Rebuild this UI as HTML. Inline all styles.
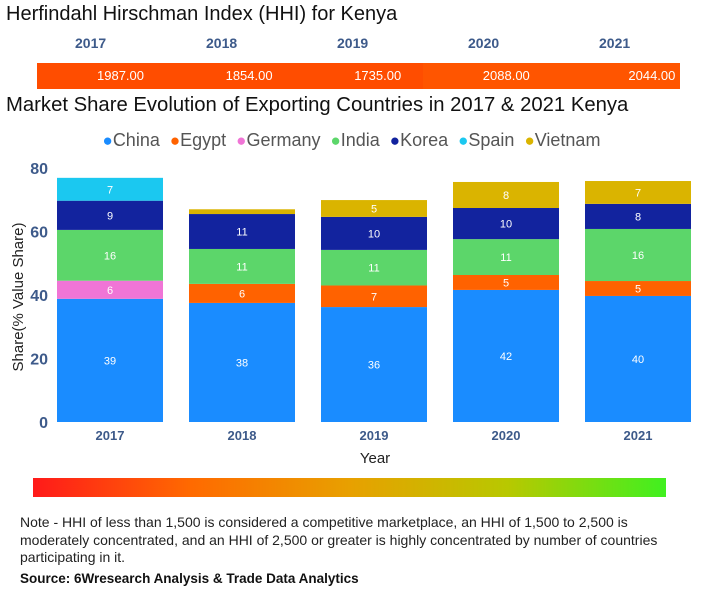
<!DOCTYPE html>
<html><head><meta charset="utf-8"><style>
body{margin:0;width:703px;height:600px;background:#fff;font-family:"Liberation Sans",sans-serif;overflow:hidden;position:relative}
.t{position:absolute;white-space:nowrap}
</style></head><body>
<div class="t" style="left:6px;top:3px;font-size:20px;color:#111">Herfindahl Hirschman Index (HHI) for Kenya</div>
<div id="hhi"></div>
<div class="t" style="left:6px;top:94px;font-size:20.3px;color:#111">Market Share Evolution of Exporting Countries in 2017 &amp; 2021 Kenya</div>
<div id="legend" style="position:absolute;left:0;top:130px;width:703px;text-align:center;font-size:18px;color:#555;white-space:nowrap"></div>
<svg id="chart" width="703" height="480" style="position:absolute;left:0;top:0"></svg>
<div style="position:absolute;left:33px;top:478px;width:633px;height:19px;background:linear-gradient(to right,#ff1a1a,#ff6a00 25%,#e8a000 50%,#b8c800 75%,#40f020)"></div>
<div class="t" style="left:20px;top:514px;font-size:14px;line-height:17.5px;color:#222;white-space:normal;width:660px">Note - HHI of less than 1,500 is considered a competitive marketplace, an HHI of 1,500 to 2,500 is moderately concentrated, and an HHI of 2,500 or greater is highly concentrated by number of countries participating in it.</div>
<div class="t" style="left:20px;top:571px;font-size:13.5px;font-weight:bold;color:#111">Source: 6Wresearch Analysis &amp; Trade Data Analytics</div>
<script>
const years=["2017","2018","2019","2020","2021"];
const hhiValues=[1987.00,1854.00,1735.00,2088.00,2044.00];
const seriesNames=["China","Egypt","Germany","India","Korea","Spain","Vietnam"];
const seriesColors=["#1a8cff","#ff6200","#f075d6","#5cd66a","#12239e","#1bc8f0","#dab400"];
const china=[38.8,37.5,36.2,41.6,39.7];
const egypt=[0,6,6.8,4.7,4.7];
const germany=[5.7,0,0,0,0];
const india=[16,11,11.2,11.3,16.4];
const korea=[9.2,11,10.4,9.8,7.9];
const spain=[7.2,0,0,0,0];
const vietnam=[0,1.5,5.3,8.2,7.2];
const yTicks=[0,20,40,60,80];
const series=[china,egypt,germany,india,korea,spain,vietnam];
const NS="http://www.w3.org/2000/svg";
const svg=document.getElementById('chart');
const y0=422,pxPer=254/80,x0=57,step=132,bw=106;
const yS=v=>y0-v*pxPer;
const xS=i=>x0+i*step;
function mk(tag,attrs,txt){const e=document.createElementNS(NS,tag);for(const k in attrs)e.setAttribute(k,attrs[k]);if(txt!==undefined)e.textContent=txt;svg.appendChild(e);return e;}
const hhiDiv=document.getElementById('hhi');
years.forEach((y,i)=>{
 const lab=document.createElement('div');lab.className='t';
 
 
 lab.style.cssText=`left:${75+i*131}px;top:35px;font-size:14px;font-weight:bold;color:#3d5a8a`;
 lab.textContent=y;hhiDiv.appendChild(lab);
 const seg=document.createElement('div');
 
 
 seg.style.cssText=`position:absolute;left:${37+i*128.6}px;top:63px;width:129px;height:26px;background:${i==3||i==4?'#ff5500':'#ff4d00'};color:#fff;font-size:13px;text-align:right;line-height:26px;box-sizing:border-box`;
 seg.innerHTML=`<span style="padding-right:${i==4?5:22}px">${hhiValues[i].toFixed(2)}</span>`;
 hhiDiv.appendChild(seg);
});
const lg=document.getElementById('legend');
seriesNames.forEach((n,i)=>{
 const s=document.createElement('span');
 
 
 s.style.margin='0 5px';
 s.innerHTML=`<span style="color:${seriesColors[i]};font-size:17px">●</span>${n}`;
 lg.appendChild(s);
});
yTicks.forEach(v=>{
 const t=mk('text',{x:48,y:yS(v)+6,'text-anchor':'end','font-size':16,'font-weight':'bold',fill:'#3d5a8a'},v);
 
 
});
const yt=mk('text',{x:0,y:0,transform:'translate(23,297) rotate(-90)','text-anchor':'middle','font-size':15,fill:'#222'},'Share(% Value Share)');


const xt=mk('text',{x:375,y:463,'text-anchor':'middle','font-size':15,fill:'#222'},'Year');


years.forEach((y,i)=>{
 const t=mk('text',{x:xS(i)+bw/2,y:440,'text-anchor':'middle','font-size':13,'font-weight':'bold',fill:'#3d5a8a'},y);
 
 
 let acc=0;
 series.forEach((arr,s)=>{
  const v=arr[i];if(!v)return;
  const r=mk('rect',{x:xS(i),y:yS(acc+v),width:bw,height:v*pxPer,fill:seriesColors[s]});
  
  
  if(v>=3){const l=mk('text',{x:xS(i)+bw/2,y:yS(acc+v/2)+4,'text-anchor':'middle','font-size':11,fill:'#fff'},Math.round(v));
   
   }
  acc+=v;
 });
});
</script>
</body></html>
